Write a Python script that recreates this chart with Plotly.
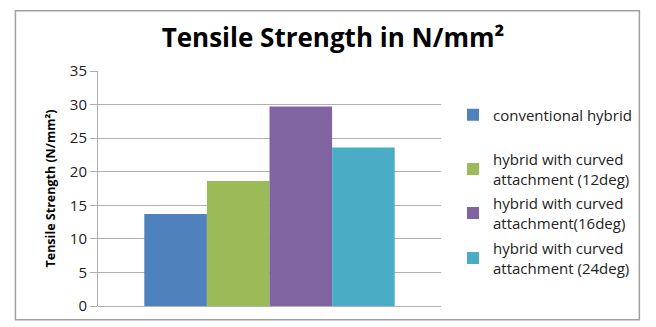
import plotly.graph_objects as go

categories = [""]
series_names = [
    "conventional hybrid",
    "hybrid with curved<br>attachment (12deg)",
    "hybrid with curved<br>attachment(16deg)",
    "hybrid with curved<br>attachment (24deg)",
]
series_values = [13.7, 18.6, 29.7, 23.6]
series_colors = ["#4F81BD", "#9BBB59", "#8064A2", "#4BACC6"]
y_ticks = [0, 5, 10, 15, 20, 25, 30, 35]

W, H = 656, 327
FONT = "Open Sans"
legend_centers_px = [115, 169, 213, 258]

fig = go.Figure()
for i, (name, val, col) in enumerate(zip(series_names, series_values, series_colors)):
    lg = "legend" if i == 0 else f"legend{i+1}"
    fig.add_trace(go.Bar(x=categories, y=[val], name=name, marker_color=col,
                         marker_line_width=0, legend=lg))

legend_common = dict(xref="container", yref="container", xanchor="left", yanchor="middle",
                     bgcolor="rgba(0,0,0,0)", borderwidth=0,
                     font=dict(family=FONT, size=15, color="#222222"),
                     tracegroupgap=0, itemwidth=30)
layout_legends = {}
for i, yc in enumerate(legend_centers_px):
    key = "legend" if i == 0 else f"legend{i+1}"
    layout_legends[key] = dict(legend_common, x=(495 - 42) / W, y=1 - yc / H)

fig.update_layout(
    width=W, height=H,
    margin=dict(l=98, r=W - 449, t=71, b=H - 311),
    paper_bgcolor="white", plot_bgcolor="white",
    barmode="group", bargap=0.27, bargroupgap=0,
    title=dict(text="Tensile Strength in N/mm²", x=333 / W, xanchor="center",
               y=1 - 38 / H, yanchor="middle", xref="container", yref="container",
               font=dict(family=FONT, size=26, color="#000000", weight="bold")),
    showlegend=True,
    xaxis=dict(showticklabels=False, showgrid=False, zeroline=False, showline=False,
               ticks=""),
    yaxis=dict(range=[0, 35], tickvals=y_ticks, showgrid=True, gridcolor="#B0B0B0",
               gridwidth=1, zeroline=True, zerolinecolor="#B0B0B0", zerolinewidth=1,
               showline=True, linecolor="#B0B0B0", linewidth=1,
               ticks="outside", ticklen=7, tickcolor="#B0B0B0",
               tickfont=dict(family=FONT, size=15, color="#222222"),
               title=dict(text="Tensile Strength (N/mm²)", standoff=11,
                          font=dict(family=FONT, size=12.5, color="#000000", weight="bold"))),
    **layout_legends,
)

fig.add_shape(type="rect", xref="paper", yref="paper",
              x0=-(98 - 13.5) / (449 - 98), x1=(652 - 98) / (449 - 98),
              y0=-(325 - 311) / (311 - 71), y1=1 + (71 - 9.5) / (311 - 71),
              line=dict(color="#A0A0A0", width=1.5), fillcolor="rgba(0,0,0,0)", layer="below")

fig.write_html("out.html")
